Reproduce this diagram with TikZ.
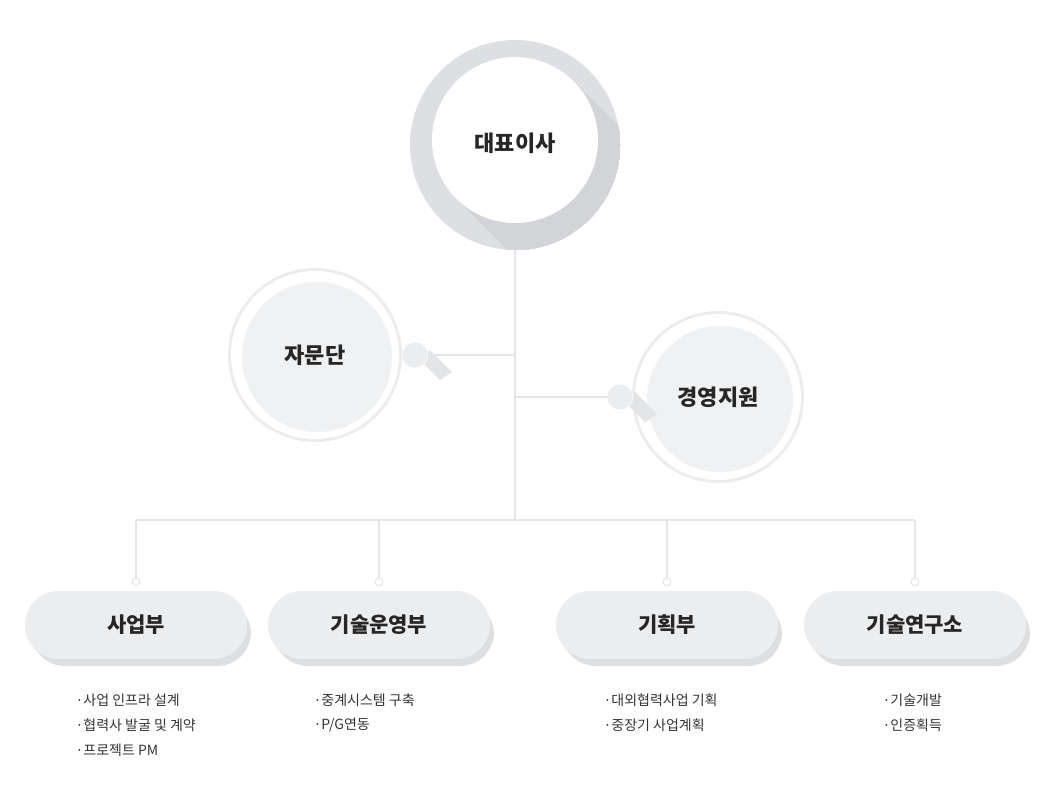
\documentclass[tikz,border=0pt]{standalone}
\usepackage{fontspec}
\setmainfont{Noto Sans CJK KR}
\usetikzlibrary{positioning}
\definecolor{linegray}{RGB}{228,229,232}
\definecolor{boxgray}{RGB}{236,237,239}
\definecolor{ringgray}{RGB}{222,223,226}
\definecolor{shadowgray}{RGB}{200,201,205}
\begin{document}
\begin{tikzpicture}[x=1pt,y=-1pt,
    link/.style={draw=linegray,line width=1.2pt},
    title/.style={font=\fontsize{22}{26}\selectfont\bfseries,text=black!85},
    dept/.style={rounded corners=34pt,fill=boxgray,minimum width=222pt,minimum height=68pt,
      font=\fontsize{21}{25}\selectfont\bfseries,text=black!85},
    ball/.style={circle,fill=boxgray,draw=white,line width=0.5pt,minimum size=26pt,inner sep=0pt},
    dot/.style={circle,draw=linegray,fill=white,line width=1pt,minimum size=8pt,inner sep=0pt},
    item/.style={anchor=west,font=\fontsize{14}{17}\selectfont,text=black!80}]
    \useasboundingbox (0,0) rectangle (1052,793);

    % top circle
    \fill[ringgray] (515,145) circle (105);
    \begin{scope}
        \clip (515,145) circle (105);
        \foreach \k in {0,2,...,60}{
            \fill[shadowgray!80] ({515+\k},{140+\k}) circle (83);
        }
    \end{scope}
    \fill[white] (515,140) circle (83);
    \node[title] (ceo) at (515,143) {대표이사};

    % side circles
    \fill[ringgray!60] (315,355) circle (87);
    \fill[white] (315,355) circle (84);
    \fill[boxgray!80!white] (317,357) circle (75);
    \node[title] (adv) at (315,355) {자문단};
    \fill[ringgray!60] (718,397) circle (86);
    \fill[white] (718,397) circle (83);
    \fill[boxgray!80!white] (720,399) circle (73);
    \node[title] (mgmt) at (718,397) {경영지원};

    % connectors
    \coordinate (top) at (515,250);
    \coordinate (mid) at (515,520);
    \coordinate (advj) at (515,355);
    \coordinate (mgmtj) at (515,397);
    \draw[link] (top) -- (mid);
    \fill[shadowgray!50] (418,358) -- (440,380) -- (452,372) -- (430,350) -- cycle;
    \node[ball] (advball) at (415,355) {};
    \draw[link] (advball) -- (advj);
    \fill[shadowgray!50] (623,400) -- (645,422) -- (657,414) -- (635,392) -- cycle;
    \node[ball] (mgmtball) at (620,397) {};
    \draw[link] (mgmtball) -- (mgmtj);

    % departments
    \foreach \name/\x/\label in {biz/136/사업부, ops/379/기술운영부, plan/667/기획부, lab/915/기술연구소}{
        \fill[shadowgray!60,rounded corners=34pt] ({\x-105},600) rectangle ({\x+115},666);
        \node[dept] (\name) at (\x,625) {\label};
        \node[dot] (\name-dot) at (\x,582) {};
        \coordinate (\name-top) at (\x,520);
        \draw[link] (\name-top) -- (\name-dot);
    }
    \draw[link] (biz-top) -- (lab-top);

    % duties
    \node[item] (biz1) at (72,700) {·사업 인프라 설계};
    \node[item] (biz2) at (72,725) {·협력사 발굴 및 계약};
    \node[item] (biz3) at (72,750) {·프로젝트 PM};
    \node[item] (ops1) at (310,700) {·중계시스템 구축};
    \node[item] (ops2) at (310,725) {·P/G연동};
    \node[item] (plan1) at (600,700) {·대외협력사업 기획};
    \node[item] (plan2) at (600,725) {·중장기 사업계획};
    \node[item] (lab1) at (879,700) {·기술개발};
    \node[item] (lab2) at (879,725) {·인증획득};
\end{tikzpicture}
\end{document}
